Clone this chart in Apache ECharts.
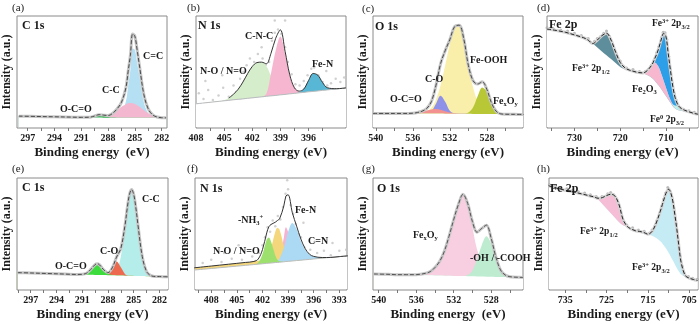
<!DOCTYPE html>
<html>
<head>
<meta charset="utf-8">
<script src="https://cdn.jsdelivr.net/npm/echarts@6/dist/echarts.min.js"></script>
<style>
  html, body { margin: 0; padding: 0; background: #fff; }
  #chart { width: 700px; height: 324px; }
</style>
</head>
<body>
<div id="chart"></div>
<script>
// ---- (a) C 1s ----
const aE = [298, 296, 294, 292, 291, 290, 289.5, 289, 288.5, 288, 287.5, 287, 286.5, 286, 285.75, 285.5, 285.25, 285, 284.75, 284.5, 284, 283.5, 283, 282.5, 282, 281.5];
const aBase = [10.6, 10.3, 10.0, 9.7, 9.5, 9.4, 9.3, 9.3, 9.2, 9.2, 9.2, 9.2, 9.1, 9.1, 9.1, 9.1, 9.1, 9.1, 9.1, 9.1, 9.1, 9.1, 9.1, 9.1, 9.1, 9.1];
const aOCO = [0, 0, 0, 0, 0, 0.3, 1.4, 2.6, 2.0, 0.7, 0.1, 0, 0, 0, 0, 0, 0, 0, 0, 0, 0, 0, 0, 0, 0, 0];
const aCC = [0, 0, 0, 0, 0, 0, 0, 0, 0.3, 1.2, 3.5, 6.5, 9.8, 12.2, 13, 13.2, 13, 12.3, 11.3, 10, 7, 4, 1.8, 0.6, 0.1, 0];
const aCeqC = [0, 0, 0, 0, 0, 0, 0, 0, 0, 0, 0.2, 1.3, 4, 14.7, 28.6, 42.7, 61.9, 60.6, 49.6, 37.5, 14.1, 3.9, 0.8, 0.1, 0, 0];
const aSum = [10.6, 10.3, 10.0, 9.7, 9.5, 9.7, 10.7, 11.9, 11.5, 11.1, 13.0, 17.0, 22.9, 36.0, 50.7, 65.0, 84.0, 82.0, 70.0, 56.6, 30.2, 17.0, 11.7, 9.8, 9.2, 9.1];

// ---- (b) N 1s ----
const bE = [408, 407, 406, 405, 404.5, 404, 403.5, 403, 402.5, 402, 401.5, 401, 400.5, 400, 399.5, 399, 398.5, 398, 397.5, 397, 396.5, 396, 395.5, 395, 394.5, 394, 393, 392];
const bBase = [21.6, 22.5, 23.4, 24.3, 24.7, 25.2, 25.6, 26.0, 26.5, 26.9, 27.4, 27.8, 28.3, 28.7, 29.1, 29.6, 30.0, 30.5, 30.9, 31.4, 31.8, 32.3, 32.7, 33.1, 33.6, 34.0, 34.9, 35.8];
const bNO = [0, 0, 0, 0.5, 2, 5, 9, 15, 22, 28, 31, 31, 27, 18, 11, 6, 2.5, 1, 0, 0, 0, 0, 0, 0, 0, 0, 0, 0];
const bCNC = [0, 0, 0, 0, 0, 0, 0, 0, 0, 0, 0, 0, 2, 20, 40, 52, 36, 16, 5, 1, 0, 0, 0, 0, 0, 0, 0, 0];
const bFeN = [0, 0, 0, 0, 0, 0, 0, 0, 0, 0, 0, 0, 0, 0, 0, 0, 0, 0, 0, 0.5, 3, 10, 16, 14, 7, 2, 0.2, 0];
const bSum = [21.6, 22.5, 23.4, 24.8, 26.7, 30.2, 34.6, 41.0, 48.5, 54.9, 58.4, 58.8, 57.3, 66.7, 80.1, 87.6, 68.5, 47.5, 35.9, 32.9, 34.8, 42.3, 48.7, 47.1, 40.6, 36.0, 35.1, 35.8];
const bDots = [[407.7, 31], [407.2, 26], [407, 42], [406.7, 34], [406.2, 25], [405.95, 19], [405.6, 29], [405.2, 47], [405.1, 36], [404.5, 28], [404, 38], [403.7, 32], [403.3, 44], [403.1, 28], [402.95, 50], [402.6, 56], [402.25, 62], [401.8, 59], [401.4, 66], [401, 72], [400.9, 62], [400.6, 56], [400.2, 59], [399.9, 78], [399.6, 85], [399.6, 96], [399.25, 88], [398.9, 84], [398.5, 72], [398.5, 96], [398.2, 59], [397.8, 48], [397.4, 39], [396.95, 38], [396.5, 42], [396.4, 33], [396.1, 47], [395.7, 53], [395.4, 54], [394.95, 47], [394.5, 41], [394.1, 51], [394, 38], [393.6, 40], [393.1, 44], [392.6, 41], [392.2, 45]];

// ---- (c) O 1s ----
const cE = [540.3, 539, 538, 537, 536, 535.5, 535, 534.5, 534, 533.5, 533, 532.5, 532, 531.5, 531, 530.5, 530, 529.5, 529, 528.5, 528, 527.5, 527, 526.5, 526, 525, 524];
const cBase = [13.0, 13.0, 13.0, 13.0, 13.0, 13.0, 13.0, 12.9, 12.9, 12.9, 12.9, 12.8, 12.8, 12.8, 12.7, 12.7, 12.7, 12.6, 12.6, 12.5, 12.5, 12.4, 12.4, 12.3, 12.3, 12.2, 12.1];
const cFeOOH = [0, 0, 0, 0, 0, 0.1, 0.5, 1.8, 5.1, 12.4, 25.3, 43.4, 62.5, 77, 79, 67, 42, 24, 11, 5, 2, 0.7, 0.2, 0, 0, 0, 0];
const cCO = [0, 0, 0, 0, 0, 0, 0, 0, 1.8, 8.8, 16, 10.7, 2.6, 0.2, 0, 0, 0, 0, 0, 0, 0, 0, 0, 0, 0, 0, 0];
const cOCO = [0, 0, 0, 0, 0.2, 0.7, 1.5, 2.7, 3.7, 4, 3.3, 2.2, 1.1, 0.4, 0.1, 0, 0, 0, 0, 0, 0, 0, 0, 0, 0, 0, 0];
const cFeO = [0, 0, 0, 0, 0, 0, 0, 0, 0, 0, 0, 0, 0, 0, 0, 0, 1.2, 5.7, 15.7, 23.7, 19.9, 9.2, 2.4, 0.3, 0, 0, 0];
const cSum = [13, 13, 13, 13, 13.2, 13.8, 15.0, 17.4, 23.5, 38.1, 57.5, 69.1, 79.0, 90.4, 91.8, 79.7, 55.9, 42.3, 39.3, 41.2, 34.4, 22.3, 15.0, 12.6, 12.3, 12.2, 12.1];

// ---- (d) Fe 2p ----
const dE = [736, 734, 732, 730, 728, 727, 726, 725, 724, 723, 722, 721, 720, 719, 718, 717, 716, 715, 714, 713, 712.5, 712, 711.5, 711, 710.5, 710, 709.5, 709, 708.5, 708, 707.5, 707, 706, 705, 704, 703];
const dBase = [88.3, 87.1, 85.5, 83.1, 80.6, 78.5, 75.4, 71.9, 68.4, 65.0, 61.6, 58.0, 54.5, 52.5, 51.4, 50.4, 49.5, 48.8, 47.0, 44.5, 42.5, 40.0, 37.5, 34.5, 31.5, 28.5, 25.5, 22.5, 19.5, 17.5, 16.3, 15.6, 14.8, 14.0, 13.2, 12.3];
const dP12 = [0, 0, 0, 0, 0, 0, 0, 6.6, 14.1, 19.6, 16.9, 9.7, 4.0, 1.3, 0.3, 0, 0, 0, 0, 0, 0, 0, 0, 0, 0, 0, 0, 0, 0, 0, 0, 0, 0, 0, 0, 0];
const dFe2O3 = [0, 0, 0, 0, 0, 0, 0, 0, 0, 0, 0, 0, 0, 0, 0, 0, 0, 0.4, 4.5, 12, 16, 17, 16, 13.5, 10.5, 7.5, 4.5, 2.2, 0.8, 0.2, 0, 0, 0, 0, 0, 0];
const dP32 = [0, 0, 0, 0, 0, 0, 0, 0, 0, 0, 0, 0, 0, 0, 0, 0, 0, 0, 0.2, 0.4, 3, 9.2, 18.8, 31.4, 42.6, 45.5, 36.2, 25.8, 15.6, 6.9, 1.7, 0, 0, 0, 0, 0];
const dFe0 = [0, 0, 0, 0, 0, 0, 0, 0, 0, 0, 0, 0, 0, 0, 0, 0, 0, 0, 0, 0, 0, 0, 0, 0, 0, 0, 0, 0.3, 1, 2.5, 3.5, 2.9, 1.2, 0.5, 0, 0];
const dSum = [88.3, 87.1, 85.5, 83.1, 80.6, 78.5, 75.4, 78.5, 82.5, 84.6, 78.5, 67.7, 58.5, 53.8, 51.7, 50.5, 49.5, 49.2, 51.7, 56.9, 61.5, 66.2, 72.3, 79.4, 84.6, 81.5, 66.2, 50.8, 36.9, 27.1, 21.5, 18.5, 16.0, 14.5, 13.2, 12.3];
const dDots = [[736, 89.5], [735.3, 87], [734.6, 88.5], [733.8, 86], [733, 87.5], [732.2, 84.8], [731.5, 86.5], [730.7, 83.5], [730, 84.5], [729.2, 81.8], [728.5, 82.5], [727.7, 79.5], [727, 79.8], [726.3, 76], [725.6, 77.5], [725, 79.8], [724.3, 81.5], [723.6, 84.5], [723, 86.5], [722.4, 82], [721.8, 74.5], [721.2, 68], [720.6, 61.5], [720, 59.8], [719.3, 55], [718.6, 53.5], [717.9, 51], [717.2, 52.2], [716.5, 49.5], [715.8, 50.5], [715.2, 48], [714.5, 50.5], [713.8, 52.5], [713.2, 56], [712.6, 60], [712, 67.5], [711.5, 73], [711, 80.5], [710.6, 85.5], [710.2, 85], [709.8, 79], [709.4, 64], [709, 52], [708.6, 40], [708.2, 30.5], [707.8, 25], [707.3, 19.5], [706.8, 17.8], [706.2, 16.8], [705.6, 14], [705, 15.5], [704.4, 12.6], [703.8, 14], [703.2, 12]];

// ---- (e) C 1s ----
const eE = [298.5, 297, 295, 293, 291.5, 291, 290.5, 290, 289.5, 289.25, 289, 288.5, 288, 287.5, 287, 286.5, 286, 285.75, 285.5, 285.25, 285, 284.75, 284.5, 284, 283.5, 283, 282.5, 282, 281];
const eBase = [15.5, 15.2, 14.7, 14.2, 13.9, 13.8, 13.7, 13.6, 13.5, 13.45, 13.4, 13.3, 13.2, 13.1, 13.0, 12.9, 12.8, 12.75, 12.7, 12.65, 12.6, 12.55, 12.5, 12.4, 12.3, 12.2, 12.1, 12.0, 11.8];
const eOCO = [0, 0, 0, 0, 0, 0.2, 1.3, 4.8, 9.2, 10, 9.2, 4.8, 1.3, 0.2, 0, 0, 0, 0, 0, 0, 0, 0, 0, 0, 0, 0, 0, 0, 0];
const eCO = [0, 0, 0, 0, 0, 0, 0, 0, 0, 0, 0, 0, 0.9, 6, 12.4, 7.4, 1.3, 0.3, 0, 0, 0, 0, 0, 0, 0, 0, 0, 0, 0];
const eCC = [0, 0, 0, 0, 0, 0, 0, 0, 0, 0, 0, 0, 0, 0.5, 3.9, 16.7, 44.2, 60, 72.2, 77, 72.9, 61.1, 45.5, 17.5, 4.2, 0.6, 0, 0, 0];
const eSum = [15.5, 15.2, 14.7, 14.2, 13.9, 14.0, 15.0, 18.4, 22.7, 23.45, 22.6, 18.1, 15.4, 19.8, 29.3, 37.0, 58.3, 73.05, 84.9, 89.65, 85.5, 73.65, 58.0, 29.9, 16.5, 12.8, 12.1, 12.0, 11.8];

// ---- (f) N 1s ----
const fE = [410, 408, 406, 404, 403, 402.5, 402, 401.5, 401.25, 401, 400.5, 400.25, 400, 399.5, 399.25, 399, 398.5, 398, 397.5, 397, 396.5, 396, 395, 394, 393, 392];
const fBase = [17.8, 19.2, 20.6, 22.0, 22.7, 23.1, 23.4, 23.8, 23.95, 24.1, 24.5, 24.6, 24.8, 25.2, 25.4, 25.6, 25.9, 26.3, 26.6, 27.0, 27.3, 27.7, 28.4, 29.1, 29.8, 30.5];
const fNO = [0, 0, 0, 0, 0, 1.3, 8.6, 21.2, 22.9, 19.2, 6.4, 2.5, 0.8, 0.1, 0, 0, 0, 0, 0, 0, 0, 0, 0, 0, 0, 0];
const fNH3 = [2, 2.2, 2.4, 2.6, 2.8, 3, 3.3, 5, 8, 13, 27.5, 31, 29, 14, 7, 3, 0.5, 0, 0, 0, 0, 0, 0, 0, 0, 0];
const fFeN = [0, 0, 0, 0, 0, 0, 0, 0, 0, 0, 0, 0.3, 2.3, 21.5, 30.7, 26.3, 4.2, 0.1, 0, 0, 0, 0, 0, 0, 0, 0];
const fCN = [0, 0, 0, 0, 0, 0, 0, 0, 0, 0, 0, 1.5, 3.4, 12.3, 19.2, 26.3, 34, 28, 17, 9, 4.5, 2.2, 0.6, 0, 0, 0];
const fSum = [19.8, 21.4, 23.0, 24.6, 25.5, 27.6, 36.0, 51.0, 56.5, 58.5, 60.5, 62.0, 63.5, 75.0, 84.0, 85.0, 69.0, 57.0, 45.5, 37.0, 32.0, 30.0, 29.0, 29.1, 29.8, 30.5];
const fDots = [[410, 22], [409.5, 16], [409, 24], [408.5, 19], [408, 27], [407.4, 18], [406.8, 25], [406.5, 33], [406.2, 21.5], [405.6, 28], [405, 20], [404.8, 40], [404.4, 27], [403.8, 23], [403.2, 30], [402.8, 26], [402.4, 33], [402, 40], [401.8, 30], [401.7, 47], [401.4, 56], [401.1, 52], [400.8, 62], [400.5, 57], [400.2, 66], [399.9, 63], [399.6, 74], [399.3, 86], [399.1, 98], [399, 90], [398.7, 76], [398.4, 68], [398.1, 59], [397.8, 50], [397.5, 47], [397.2, 60], [397.1, 38], [396.8, 30], [396.4, 36], [396, 27], [395.9, 43], [395.6, 33], [395.2, 26], [394.8, 35], [394.4, 28], [394, 31], [393.8, 42], [393.5, 25], [393, 35], [392.5, 29], [392.2, 36]];

// ---- (g) O 1s ----
const gE = [540.5, 539, 538, 537, 536, 535.5, 535, 534.5, 534, 533.5, 533, 532.5, 532, 531.5, 531, 530.5, 530, 529.5, 529, 528.5, 528, 527.5, 527, 526.5, 526, 525, 524.6];
const gBase = [14.3, 14.0, 13.7, 13.7, 13.4, 13.3, 13.2, 13.1, 13.0, 12.9, 12.8, 12.7, 12.6, 12.5, 12.4, 12.3, 12.2, 12.1, 12.0, 11.9, 11.8, 11.7, 11.6, 11.6, 11.5, 11.3, 11.2];
const gFeO = [0, 0, 0, 0, 0.3, 0.8, 1.7, 3.3, 7, 12.5, 21.5, 35, 50, 63.6, 73, 64, 44, 24, 15, 10, 5, 2, 0.8, 0.2, 0, 0, 0];
const gOH = [0, 0, 0, 0, 0, 0, 0, 0, 0, 0, 0, 0, 0, 0, 0, 1, 5, 15.5, 28, 36, 29.5, 16, 5.5, 1.6, 0.4, 0, 0];
const gSum = [14.3, 14.0, 13.7, 13.7, 13.7, 14.1, 14.9, 16.4, 20.0, 25.4, 34.3, 47.7, 62.6, 76.1, 85.4, 77.3, 61.2, 51.6, 55.0, 57.9, 46.3, 29.7, 17.9, 13.4, 11.9, 11.3, 11.2];

// ---- (h) Fe 2p ----
const hE = [739, 737, 735, 733, 731, 729, 728, 727, 726, 725, 724, 723, 722, 721, 720, 719, 718, 717, 716, 715, 714, 713, 712, 711.5, 711, 710.5, 710, 709.5, 709, 708.5, 708, 707.5, 707, 706, 705, 704, 703];
const hBase = [93.1, 90.9, 89.1, 87.6, 85.8, 84.0, 83.1, 80.5, 76.5, 72.5, 68.5, 64.5, 60.5, 57.5, 56.3, 54.4, 52.9, 52.3, 51.4, 49.8, 48.5, 46.5, 43.5, 41.5, 39.0, 36.3, 33.3, 30.0, 26.5, 23.0, 19.5, 16.5, 14.0, 11.5, 10.4, 9.4, 8.5];
const hP12 = [0, 0, 0, 0, 0, 0, 0, 1.4, 6.0, 11.8, 17.0, 19.5, 15.9, 5.3, 0.5, 0, 0, 0, 0, 0, 0, 0, 0, 0, 0, 0, 0, 0, 0, 0, 0, 0, 0, 0, 0, 0, 0];
const hP32 = [0, 0, 0, 0, 0, 0, 0, 0, 0, 0, 0, 0, 0, 0, 0, 0, 0, 0, 0, 0, 3.8, 13.3, 26.9, 34.9, 43.5, 51.3, 56.7, 57.0, 53.0, 44.4, 34.3, 22.2, 11.1, 1.5, 0.2, 0, 0];
const hSum = [93.1, 90.9, 89.1, 87.6, 85.8, 84.0, 83.1, 81.9, 82.5, 84.3, 85.5, 84.0, 76.4, 62.8, 56.8, 54.4, 52.9, 52.3, 51.4, 49.8, 52.3, 59.8, 70.4, 76.4, 82.5, 87.6, 90.0, 87.0, 79.5, 67.4, 53.8, 38.7, 25.1, 13.0, 10.6, 9.4, 8.5];
const hDots = [[738.8, 94], [738.2, 91.5], [737.5, 93], [736.8, 90], [736, 91.5], [735.3, 88.5], [734.6, 90.5], [733.9, 87], [733.2, 88.8], [732.5, 86], [731.8, 87.8], [731, 84.8], [730.3, 86.5], [729.6, 83.5], [728.9, 85], [728.2, 82], [727.5, 83.5], [726.8, 81], [726.1, 83.5], [725.4, 83], [724.7, 86], [724, 87], [723.3, 85], [722.7, 81.5], [722, 75], [721.4, 67], [720.8, 61], [720.1, 58], [719.4, 53.5], [718.7, 55.5], [718, 52], [717.3, 53.5], [716.6, 50.5], [715.9, 52.5], [715.2, 49], [714.6, 51], [714, 53.5], [713.4, 56.5], [712.8, 62], [712.2, 68], [711.7, 74.5], [711.2, 81], [710.7, 86.5], [710.2, 91.5], [709.7, 88], [709.2, 82], [708.7, 71], [708.2, 59], [707.7, 44], [707.2, 30], [706.7, 21], [706.2, 14.5], [705.7, 11.5], [705.2, 12], [704.7, 9], [704.2, 10.5], [703.6, 8], [703.1, 9.5]];

// tick labels
const aTicks = [297, 294, 291, 288, 285, 282];
const bTicks = [408, 405, 402, 399, 396];
const cTicks = [540, 536, 532, 528];
const dTicks = [730, 720, 710];
const eTicks = [297, 294, 291, 288, 285, 282];
const fTicks = [408, 405, 402, 399, 396, 393];
const gTicks = [540, 536, 532, 528];
const hTicks = [735, 725, 715, 705];

const FONT = '"Liberation Serif", "Times New Roman", serif';
const INK = '#1a1a1a';

// layout of the eight frames: left, top, width, height
const panels = [
  { box: [17, 16, 150, 112], range: [281.4, 298.2], ticks: aTicks, xName: 'Binding energy  (eV)' },
  { box: [196, 16, 150, 112], range: [392, 408], ticks: bTicks, xName: 'Binding energy (eV)' },
  { box: [373, 16, 150, 112], range: [524.1, 540.3], ticks: cTicks, xName: 'Binding energy (eV)' },
  { box: [547, 16, 151, 112], range: [703, 736], ticks: dTicks, xName: 'Binding energy (eV)' },
  { box: [17, 178, 151, 112], range: [281, 298.6], ticks: eTicks, xName: 'Binding energy (eV)' },
  { box: [195, 178, 152, 112], range: [392.1, 409.9], ticks: fTicks, xName: 'Binding energy (eV)' },
  { box: [373, 178, 150, 112], range: [524.6, 540.6], ticks: gTicks, xName: 'Binding energy  (eV)' },
  { box: [549, 178, 149, 112], range: [702.9, 738.9], ticks: hTicks, xName: 'Binding energy (eV)' }
];

// minor marks halfway between labelled ticks
function marks(t) {
  const out = t.slice();
  const step = t[0] - t[1];
  for (let i = -1; i < t.length; i++) out.push(t[0] - step * (i + 0.5));
  return out;
}

const xy = (xs, ys) => xs.map((x, i) => [x, ys[i]]);
// background plus one or more component heights
const lift = (base, ...hs) => base.map((b, k) => hs.reduce((s, h) => s + h[k], b));
const SMOOTH = 0.35;
const FLOOR = 0.8; // areas are filled down to here, just above the frame line

// a fitted component: filled from its top curve down, the part under the background is masked later
function band(i, xs, top, color) {
  return {
    type: 'line', xAxisIndex: i, yAxisIndex: i, data: xy(xs, top), smooth: SMOOTH,
    symbol: 'none', silent: true, lineStyle: { width: 0, opacity: 0 },
    areaStyle: { color: color, opacity: 1, origin: FLOOR }
  };
}
const peak = (i, xs, base, h, color) => band(i, xs, lift(base, h), color);

function curve(i, xs, ys, style) {
  return {
    type: 'line', xAxisIndex: i, yAxisIndex: i, data: xy(xs, ys), smooth: SMOOTH,
    symbol: 'none', silent: true, lineStyle: style
  };
}

function dots(i, pts, color, size) {
  return {
    type: 'scatter', xAxisIndex: i, yAxisIndex: i, data: pts, symbol: 'circle',
    symbolSize: size, itemStyle: { color: color }, silent: true
  };
}

const MEAS = { color: '#c6c6c6', width: 3 };
const FIT = { color: '#4a4a4a', width: 1, type: 'dashed' };
// white fill under the background line hides the lower part of every component
const mask = (i, xs, base) => band(i, xs, base, '#ffffff');

const series = [
  // (a)
  peak(0, aE, aBase, aCeqC, '#b5e0f4'),
  peak(0, aE, aBase, aCC, '#f3b8d0'),
  peak(0, aE, aBase, aOCO, '#2fae4e'),
  mask(0, aE, aBase),
  curve(0, aE, aSum, MEAS), curve(0, aE, aSum, FIT),
  // (b) the fitted envelope starts where the N-O band rises
  peak(1, bE, bBase, bNO, '#d5edcb'),
  peak(1, bE, bBase, bCNC, '#f6b6cf'),
  peak(1, bE, bBase, bFeN, '#58b7d4'),
  mask(1, bE, bBase),
  curve(1, bE, bBase, { color: '#bcbcbc', width: 1 }), dots(1, bDots, '#c4c4c4', 2.5),
  curve(1, bE.slice(4), bSum.slice(4), { color: '#333', width: 1 }),
  // (c)
  peak(2, cE, cBase, cFeOOH, '#f9efab'),
  peak(2, cE, cBase, cCO, '#8f91e8'),
  peak(2, cE, cBase, cOCO, '#f39191'),
  peak(2, cE, cBase, cFeO, '#b7c735'),
  mask(2, cE, cBase),
  curve(2, cE, cSum, MEAS), curve(2, cE, cSum, FIT),
  // (d) the 2p3/2 components sit one on another: Fe2O3, then Fe0, then Fe3+
  band(3, dE, lift(dBase, dFe2O3, dFe0, dP32), '#2d9fe8'),
  band(3, dE, lift(dBase, dFe2O3, dFe0), '#baf2ee'),
  band(3, dE, lift(dBase, dFe2O3), '#f6b7cf'),
  peak(3, dE, dBase, dP12, '#5e8e9c'),
  mask(3, dE, dBase),
  curve(3, dE, dSum, { color: '#d2d2d2', width: 3 }), dots(3, dDots, '#a9a9a9', 3),
  curve(3, dE, dSum, { color: '#222', width: 1, type: 'dashed' }),
  // (e)
  peak(4, eE, eBase, eCC, '#b4ede9'),
  peak(4, eE, eBase, eCO, '#ee6a4e'),
  peak(4, eE, eBase, eOCO, '#3ddc3d'),
  mask(4, eE, eBase),
  curve(4, eE, eSum, MEAS), curve(4, eE, eSum, FIT),
  // (f)
  peak(5, fE, fBase, fFeN, '#f7b2d1'),
  peak(5, fE, fBase, fNH3, '#f4d67c'),
  peak(5, fE, fBase, fCN, '#acd9f4'),
  peak(5, fE, fBase, fNO, '#9de06d'),
  mask(5, fE, fBase),
  curve(5, fE, fBase, { color: '#bcbcbc', width: 1 }), dots(5, fDots, '#c4c4c4', 2.5),
  curve(5, fE, fSum, { color: '#333', width: 1 }),
  // (g)
  peak(6, gE, gBase, gFeO, '#f8cee1'),
  peak(6, gE, gBase, gOH, '#bdecd0'),
  mask(6, gE, gBase),
  curve(6, gE, gSum, MEAS), curve(6, gE, gSum, { color: '#555', width: 1, type: 'dashed' }),
  // (h)
  peak(7, hE, hBase, hP12, '#f6bed6'),
  peak(7, hE, hBase, hP32, '#c5ebf5'),
  mask(7, hE, hBase),
  curve(7, hE, hSum, { color: '#d2d2d2', width: 3 }), dots(7, hDots, '#a9a9a9', 3),
  curve(7, hE, hSum, { color: '#222', width: 1, type: 'dashed' })
];

const grid = panels.map(p => ({
  left: p.box[0], top: p.box[1], width: p.box[2], height: p.box[3],
  show: true, borderColor: '#8a8a8a', borderWidth: 1, backgroundColor: 'transparent'
}));

const xAxis = panels.map((p, i) => ({
  gridIndex: i, type: 'value', inverse: true, min: p.range[0], max: p.range[1],
  axisLine: { show: false },
  axisTick: { show: true, customValues: marks(p.ticks).filter(v => v > p.range[0] && v < p.range[1]), length: 3, lineStyle: { color: '#777' } },
  axisLabel: { customValues: p.ticks, color: INK, fontFamily: FONT, fontWeight: 'bold', fontSize: 10, margin: 5 },
  splitLine: { show: false },
  name: p.xName, nameLocation: 'middle', nameGap: 18,
  nameTextStyle: { color: INK, fontFamily: FONT, fontWeight: 'bold', fontSize: 13 }
}));

const yAxis = panels.map((p, i) => ({
  gridIndex: i, type: 'value', min: 0, max: 100,
  axisLine: { show: false }, axisTick: { show: false }, axisLabel: { show: false }, splitLine: { show: false },
  name: 'Intensity (a.u.)', nameLocation: 'middle', nameGap: 4, nameRotate: 90,
  nameTextStyle: { color: INK, fontFamily: FONT, fontWeight: 'bold', fontSize: 12 }
}));

// text annotations: x, y (left / middle), text, size, weight
const rich = {
  sup: { fontFamily: FONT, fontWeight: 'bold', fontSize: 6.5, lineHeight: 6, verticalAlign: 'top', fill: INK },
  sub: { fontFamily: FONT, fontWeight: 'bold', fontSize: 6.5, lineHeight: 6, verticalAlign: 'bottom', fill: INK }
};
const notes = [
  [12, 8, '(a)', 11, 'normal'], [187, 8, '(b)', 11, 'normal'], [362, 9, '(c)', 11, 'normal'], [537, 8, '(d)', 11, 'normal'],
  [12, 169, '(e)', 11, 'normal'], [187, 169, '(f)', 11, 'normal'], [362, 169, '(g)', 11, 'normal'], [537, 169, '(h)', 11, 'normal'],
  [22, 26, 'C 1s', 12], [198, 26, 'N 1s', 12], [375, 27, 'O 1s', 12], [549, 25, 'Fe 2p', 12],
  [22, 188, 'C 1s', 12], [200, 189, 'N 1s', 12], [377, 189, 'O 1s', 12], [550, 189, 'Fe 2p', 12],
  [143, 56, 'C=C', 10], [102, 90, 'C-C', 10], [60, 109, 'O-C=O', 10],
  [245, 36, 'C-N-C', 10], [200, 71, 'N-O / N=O', 10], [312, 64, 'Fe-N', 10],
  [470, 60, 'Fe-OOH', 10], [425, 79, 'C-O', 10], [390, 99, 'O-C=O', 10], [493, 101, 'Fe{sub|x}O{sub|y}', 10],
  [652, 24, 'Fe{sup|3+} 2p{sub|3/2}', 9.5], [572, 69, 'Fe{sup|3+} 2p{sub|1/2}', 9.5], [632, 89, 'Fe{sub|2}O{sub|3}', 10], [650, 120, 'Fe{sup|0} 2p{sub|3/2}', 9.5],
  [142, 199, 'C-C', 10], [100, 251, 'C-O', 10], [55, 266, 'O-C=O', 10],
  [238, 220, '-NH{sub|3}{sup|+}', 10], [295, 210, 'Fe-N', 10], [308, 241, 'C=N', 10], [213, 251, 'N-O / N=O', 10],
  [413, 235, 'Fe{sub|x}O{sub|y}', 10], [470, 258, '-OH / -COOH', 10],
  [580, 232, 'Fe{sup|3+} 2p{sub|1/2}', 9.5], [632, 268, 'Fe{sup|3+} 2p{sub|3/2}', 9.5]
];

const graphic = notes.map(n => ({
  type: 'text', x: n[0], y: n[1], z: 100, silent: true,
  style: {
    text: n[2], fill: INK, align: 'left', verticalAlign: 'middle', lineHeight: 13,
    font: (n[4] || 'bold') + ' ' + n[3] + 'px ' + FONT, rich: rich
  }
}));

const chart = echarts.init(document.getElementById('chart'));
chart.setOption({
  backgroundColor: '#fff',
  animation: false,
  grid: grid,
  xAxis: xAxis,
  yAxis: yAxis,
  series: series,
  graphic: graphic
});
</script>
</body>
</html>
